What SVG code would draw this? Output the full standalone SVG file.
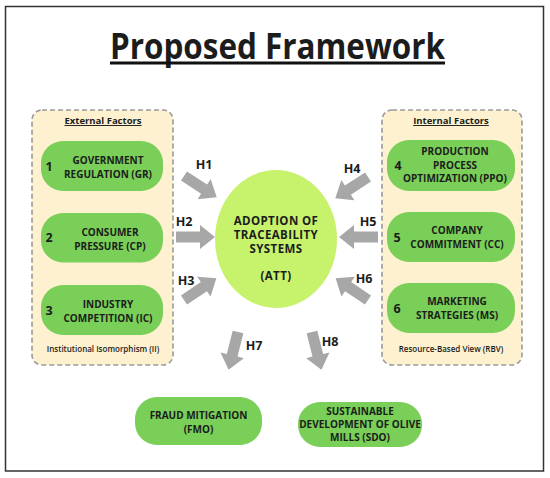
<svg xmlns="http://www.w3.org/2000/svg" width="550" height="478" viewBox="0 0 550 478">
<style>
text{font-family:"Open Sans","Liberation Sans",sans-serif;font-weight:bold;fill:#1c1c1c;text-anchor:middle}
.panel{fill:#fdf1cf;stroke:#9a9a9a;stroke-width:1.6;stroke-dasharray:5 3}
.node{fill:#79cf57}
.t{font-size:10px}
.e{font-size:11.5px;letter-spacing:0.4px}
.num{font-size:12.5px}
.hd{font-size:9.5px;text-decoration:underline}
.ft{font-size:8px;font-weight:600}
.h{font-size:12.5px}
.arr{fill:#a7a7a7}
</style>
<defs>
<path id="ar" d="M0,-5.5 L24,-5.5 L24,-12 L39,0 L24,12 L24,5.5 L0,5.5 Z"/>
</defs>
<rect x="5.5" y="6.5" width="538" height="464.5" fill="#fff" stroke="#333" stroke-width="1.5"/>
<g id="title">
<text x="277.5" y="59" font-size="36" textLength="335" lengthAdjust="spacingAndGlyphs">Proposed Framework</text>
<rect x="110" y="61.5" width="335" height="3" fill="#111"/>
</g>
<g id="external">
<rect class="panel" x="32" y="110" width="141" height="255" rx="10"/>
<text class="hd" x="103" y="124">External Factors</text>
<text class="ft" x="103" y="352">Institutional Isomorphism (II)</text>
</g>
<g id="internal">
<rect class="panel" x="382" y="110" width="140" height="255" rx="10"/>
<text class="hd" x="451" y="124">Internal Factors</text>
<text class="ft" x="451" y="352">Resource-Based View (RBV)</text>
</g>
<g id="gr">
<rect class="node" x="41" y="141" width="122" height="50" rx="22"/>
<text class="num" x="49" y="170.5">1</text>
<text class="t" x="108" y="164">GOVERNMENT</text>
<text class="t" x="108" y="178">REGULATION (GR)</text>
</g>
<g id="cp">
<rect class="node" x="41" y="213" width="122" height="49.5" rx="22"/>
<text class="num" x="49" y="242">2</text>
<text class="t" x="110" y="235.5">CONSUMER</text>
<text class="t" x="110" y="249.5">PRESSURE (CP)</text>
</g>
<g id="ic">
<rect class="node" x="41" y="285" width="122" height="50" rx="22"/>
<text class="num" x="49" y="314.5">3</text>
<text class="t" x="108" y="308">INDUSTRY</text>
<text class="t" x="108" y="322">COMPETITION (IC)</text>
</g>
<g id="ppo">
<rect class="node" x="387" y="140" width="128" height="51" rx="22"/>
<text class="num" x="398" y="170">4</text>
<text class="t" x="455" y="155">PRODUCTION</text>
<text class="t" x="455" y="168.5">PROCESS</text>
<text class="t" x="455" y="182">OPTIMIZATION (PPO)</text>
</g>
<g id="cc">
<rect class="node" x="387" y="212" width="128" height="50" rx="22"/>
<text class="num" x="397" y="241.5">5</text>
<text class="t" x="457" y="233.5">COMPANY</text>
<text class="t" x="457" y="247.5">COMMITMENT (CC)</text>
</g>
<g id="ms">
<rect class="node" x="387" y="283" width="128" height="50" rx="22"/>
<text class="num" x="397" y="313">6</text>
<text class="t" x="457" y="305">MARKETING</text>
<text class="t" x="457" y="319">STRATEGIES (MS)</text>
</g>
<g id="att">
<ellipse cx="276" cy="239" rx="61" ry="69" fill="#c6f26c"/>
<text class="e" x="276" y="225">ADOPTION OF</text>
<text class="e" x="276" y="239">TRACEABILITY</text>
<text class="e" x="276" y="253">SYSTEMS</text>
<text class="e" x="276" y="280">(ATT)</text>
</g>
<g id="fmo">
<rect class="node" x="135" y="397" width="127" height="48" rx="22"/>
<text class="t" x="198.5" y="419">FRAUD MITIGATION</text>
<text class="t" x="198.5" y="433">(FMO)</text>
</g>
<g id="sdo">
<rect class="node" x="298" y="402" width="124" height="45" rx="22"/>
<text class="t" x="360" y="415">SUSTAINABLE</text>
<text class="t" x="360" y="428">DEVELOPMENT OF OLIVE</text>
<text class="t" x="360" y="441">MILLS (SDO)</text>
</g>
<g id="connectors" class="arr">
<use href="#ar" transform="translate(184,176) rotate(33)"/>
<use href="#ar" transform="translate(176,237)"/>
<use href="#ar" transform="translate(184,300) rotate(-34)"/>
<use href="#ar" transform="translate(368,177) rotate(147)"/>
<use href="#ar" transform="translate(378,237) rotate(180)"/>
<use href="#ar" transform="translate(368,300) rotate(-146)"/>
<use href="#ar" transform="translate(238,332) rotate(104)"/>
<use href="#ar" transform="translate(312,332) rotate(76)"/>
</g>
<g id="labels" class="h">
<text class="h" x="204" y="169">H1</text>
<text class="h" x="184" y="226">H2</text>
<text class="h" x="186" y="285">H3</text>
<text class="h" x="352" y="173">H4</text>
<text class="h" x="368" y="226">H5</text>
<text class="h" x="364" y="283">H6</text>
<text class="h" x="254" y="350">H7</text>
<text class="h" x="330" y="346">H8</text>
</g>
</svg>
